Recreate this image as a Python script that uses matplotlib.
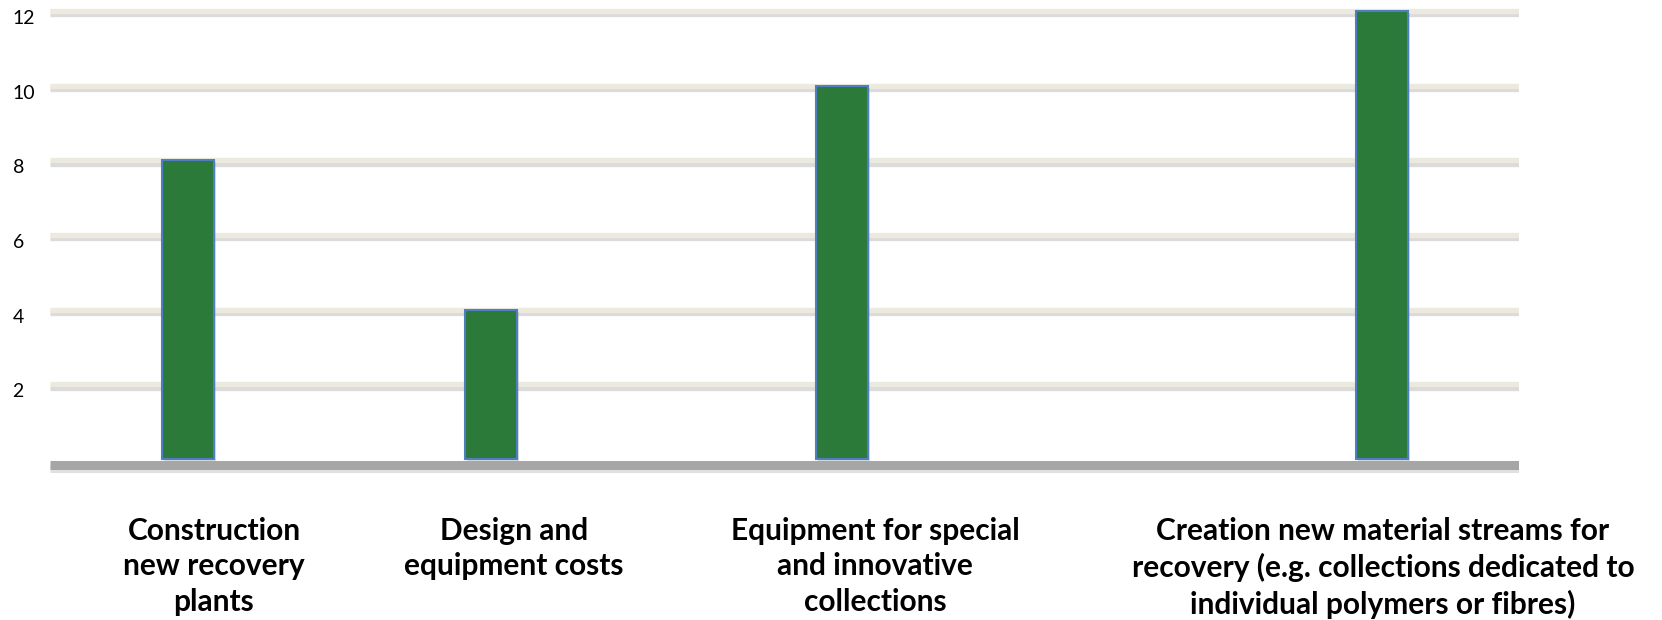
import matplotlib.pyplot as plt
import matplotlib.patheffects as pe
from matplotlib.transforms import ScaledTranslation

categories = ["Construction\nnew recovery\nplants",
              "Design and\nequipment costs",
              "Equipment for special\nand innovative\ncollections",
              "Creation new material streams for\nrecovery (e.g. collections dedicated to\nindividual polymers or fibres)"]
values = [8, 4, 10, 12]
yticks = [2, 4, 6, 8, 10, 12]

# layout (x in pixel-like units across the plot area)
bar_x = [138, 441, 792, 1332]
label_x = [164, 464, 825, 1333]

fig = plt.figure(figsize=(16.62, 6.2), dpi=100)
ax = fig.add_axes([50 / 1662, 1 - 480 / 620, 1469 / 1662, 480 / 620])
ax.set_xlim(0, 1469)
ax.set_ylim(-0.563, 12.295)
for s in ax.spines.values():
    s.set_visible(False)

# gridlines with a soft shadow
for t in yticks:
    ax.axhline(t, color='#ECE9DF', lw=3.8, zorder=1, solid_capstyle='butt',
               path_effects=[pe.SimpleLineShadow(offset=(0, -2.5), shadow_color='#999999', alpha=0.35),
                             pe.Normal()])

base = ax.axhline(0, color='#A6A6A6', lw=6.5, zorder=3, solid_capstyle='butt',
                  path_effects=[pe.SimpleLineShadow(offset=(0, -2), shadow_color='#999999', alpha=0.3),
                                pe.Normal()])
base.set_transform(base.get_transform() + ScaledTranslation(0, -6 / 100, fig.dpi_scale_trans))

ax.bar(bar_x, values, width=52, color='#2C7A3A', edgecolor='#4F7FC0', linewidth=1.5, zorder=2,
       path_effects=[pe.SimplePatchShadow(offset=(1.5, -1.5), shadow_rgbFace='#999999', alpha=0.35),
                     pe.Normal()])

ax.set_xticks([])
ax.set_yticks(yticks)
ax.set_yticklabels([str(t) for t in yticks], fontsize=14, family='Lato', ha='left')
ax.tick_params(axis='y', length=0, pad=27)
for lbl in ax.get_yticklabels():
    lbl.set_transform(lbl.get_transform() + ScaledTranslation(0, -6 / 100, fig.dpi_scale_trans))

for x, c in zip(label_x, categories):
    ax.text(x, -1.55, c, ha='center', va='top', fontsize=21.5, fontweight='bold', family='Lato',
            linespacing=1.33, clip_on=False)

fig.savefig('out.png', dpi=100)
